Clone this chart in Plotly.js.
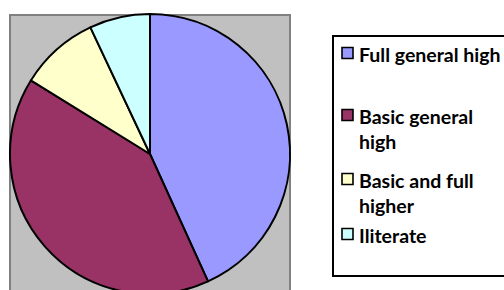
<!DOCTYPE html>
<html>
<head>
<meta charset="utf-8">
<script src="https://cdn.plot.ly/plotly-3.0.1.min.js"></script>
<style>
html,body{margin:0;padding:0;background:#fff;}
#wrap{width:504px;height:290px;overflow:hidden;position:relative;}
#chart{width:504px;height:300px;}
</style>
</head>
<body>
<div id="wrap"><div id="chart"></div></div>
<script>
// Data
var categories = ["Full general high", "Basic general high", "Basic and full higher", "Iliterate"];
var legendText = ["Full general high", "Basic general<br>high", "Basic and full<br>higher", "Iliterate"];
var shares = [43.2, 40.6, 9.2, 7.0];
var colors = ["#9999FF", "#993366", "#FFFFCC", "#CCFFFF"];

// Layout constants (pixels)
var W = 504, H = 300;
function px(x){ return x / W; }
function py(y){ return 1 - y / H; }
var legendTop = [47, 109, 173, 228]; // swatch top per item

var shapes = [
  {type:"rect", xref:"paper", yref:"paper", x0:px(10), x1:px(290), y0:py(15), y1:py(320),
   fillcolor:"#C0C0C0", line:{color:"#808080", width:2}, layer:"below"},
  {type:"rect", xref:"paper", yref:"paper", x0:px(333), x1:px(515), y0:py(36), y1:py(276),
   fillcolor:"rgba(0,0,0,0)", line:{color:"#000000", width:2}, layer:"below"}
];
var annotations = [];
for (var i = 0; i < categories.length; i++) {
  var t = legendTop[i];
  shapes.push({type:"rect", xref:"paper", yref:"paper", x0:px(342), x1:px(353), y0:py(t+0.5), y1:py(t+11.5),
    fillcolor:colors[i], line:{color:"#000000", width:1.6}});
  annotations.push({xref:"paper", yref:"paper", x:px(358), y:py(t-5), xanchor:"left", yanchor:"top",
    align:"left", showarrow:false, text:legendText[i], borderpad:0,
    font:{family:"Lato, 'Open Sans', sans-serif", size:19.5, color:"#000000", weight:700}});
}

var data = [{
  type:"pie", labels:categories, values:shares, sort:false, direction:"clockwise", rotation:0,
  marker:{colors:colors, line:{color:"#000000", width:2}},
  textinfo:"none", hoverinfo:"label+percent", showlegend:false,
  domain:{x:[px(10), px(290)], y:[6/H, 286/H]}
}];

var layout = {
  width:W, height:H, margin:{l:0, r:0, t:0, b:0},
  paper_bgcolor:"#FFFFFF", showlegend:false,
  shapes:shapes, annotations:annotations
};
Plotly.newPlot("chart", data, layout, {displayModeBar:false, staticPlot:true});
</script>
</body>
</html>
